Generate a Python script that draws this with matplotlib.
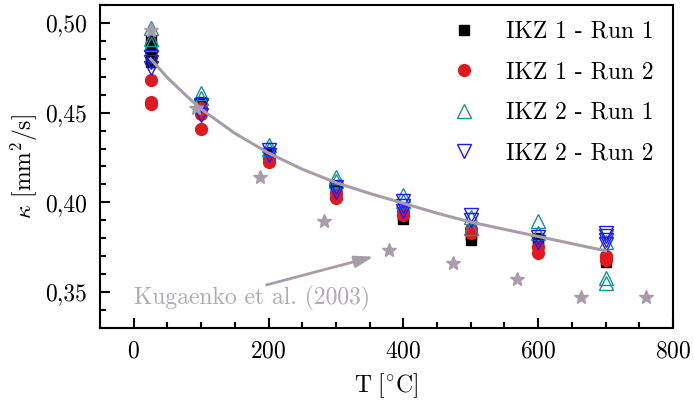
import numpy as np
import matplotlib
matplotlib.use("Agg")
import matplotlib.pyplot as plt
from matplotlib.ticker import MultipleLocator, FuncFormatter

plt.rcParams['font.family'] = 'serif'
plt.rcParams['font.serif'] = ['cmr10', 'DejaVu Serif']
plt.rcParams['mathtext.fontset'] = 'cm'
plt.rcParams['axes.formatter.use_mathtext'] = True

# -----------------------------
# DATA
# -----------------------------
ikz1_run1_T = [25, 25, 25, 25, 25, 100, 100, 200, 200, 300, 300, 400, 400, 500, 500, 600, 600, 700, 700]
ikz1_run1_k = [0.490, 0.487, 0.485, 0.482, 0.478, 0.456, 0.455, 0.428, 0.427, 0.409, 0.404,
               0.391, 0.393, 0.379, 0.382, 0.377, 0.380, 0.367, 0.369]

ikz1_run2_T = [25, 25, 25, 100, 100, 100, 200, 200, 300, 300, 400, 400, 500, 500, 600, 600, 700, 700]
ikz1_run2_k = [0.468, 0.456, 0.455, 0.4525, 0.449, 0.441, 0.4225, 0.425, 0.4025, 0.405,
               0.395, 0.393, 0.385, 0.383, 0.372, 0.375, 0.370, 0.368]

ikz2_run1_T = [25, 25, 25, 100, 100, 200, 200, 300, 300, 400, 400, 500, 500, 600, 600, 700, 700, 700]
ikz2_run1_k = [0.497, 0.491, 0.488, 0.461, 0.458, 0.432, 0.430, 0.414, 0.412, 0.404, 0.401,
               0.392, 0.386, 0.3895, 0.383, 0.378, 0.358, 0.355]

ikz2_run2_T = [25, 25, 25, 100, 100, 200, 200, 300, 300, 400, 400, 400, 500, 500, 600, 600, 700, 700, 700, 700]
ikz2_run2_k = [0.481, 0.478, 0.475, 0.454, 0.4487, 0.429, 0.4264, 0.4086, 0.406, 0.401, 0.398,
               0.395, 0.393, 0.390, 0.3807, 0.378, 0.383, 0.381, 0.379, 0.377]

# Kugaenko et al. (2003)
kug_T = [25, 92, 188, 283, 378, 473, 569, 664, 760]
kug_k = [0.496, 0.4528, 0.414, 0.3894, 0.3733, 0.366, 0.3572, 0.3472, 0.3472]

# fit curve
fit_T = [25, 50, 75, 100, 150, 200, 250, 300, 350, 400, 450, 500, 550, 600, 650, 700]
fit_k = [0.480, 0.4695, 0.4605, 0.452, 0.4385, 0.4275, 0.4185, 0.411, 0.405, 0.3995,
         0.394, 0.389, 0.385, 0.381, 0.377, 0.373]

mauve = '#a99ca9'
fs = 17

# -----------------------------
# PLOT
# -----------------------------
fig = plt.figure(figsize=(6.94, 4.03), dpi=100)
ax = fig.add_axes([100/694, 1-328/403, 573/694, 323/403])

ax.plot(ikz1_run1_T, ikz1_run1_k, 's', color='black', ms=7, ls='none', label='IKZ 1 - Run 1')
ax.plot(ikz1_run2_T, ikz1_run2_k, 'o', color='#e0191f', mec='#e0191f', ms=8.5, ls='none', label='IKZ 1 - Run 2')
ax.plot(ikz2_run1_T, ikz2_run1_k, '^', mfc='none', mec='#1f9090', mew=1.0, ms=10, ls='none', label='IKZ 2 - Run 1')
ax.plot(ikz2_run2_T, ikz2_run2_k, 'v', mfc='none', mec='#1a1aff', mew=1.0, ms=10, ls='none', label='IKZ 2 - Run 2')

ax.plot(kug_T, kug_k, '*', color=mauve, ms=10, ls='none', zorder=4)
ax.plot(fit_T, fit_k, '-', color=mauve, lw=2.2, zorder=5)

# arrow and label for the literature data
ax.annotate('', xy=(356, 0.3698), xytext=(197, 0.354),
            arrowprops=dict(arrowstyle='-|>,head_length=0.8,head_width=0.25', color=mauve, lw=2,
                            mutation_scale=14, shrinkA=0, shrinkB=0))
ax.text(176, 0.3462, 'Kugaenko et al. (2003)', color='#b3a8b3', fontsize=fs,
        ha='center', va='center')

ax.set_xlim(-50, 800)
ax.set_ylim(0.33, 0.51)
ax.xaxis.set_major_locator(MultipleLocator(200))
ax.xaxis.set_minor_locator(MultipleLocator(50))
ax.yaxis.set_major_locator(MultipleLocator(0.05))
ax.yaxis.set_minor_locator(MultipleLocator(0.01))
ax.yaxis.set_major_formatter(FuncFormatter(lambda v, p: f'{v:.2f}'.replace('.', ',')))
ax.tick_params(which='both', direction='in', top=False, right=False, labelsize=fs, width=1.5)
ax.tick_params(which='major', length=7, pad=9)
ax.tick_params(which='minor', length=4)
for s in ax.spines.values():
    s.set_linewidth(1.5)

ax.set_xlabel(r'$\mathrm{T\ [^{\circ}C]}$', fontsize=fs, labelpad=6)
ax.set_ylabel(r'$\kappa$ [mm$^2$/s]', fontsize=fs, labelpad=4)

ax.legend(loc='upper right', frameon=False, fontsize=fs, handletextpad=1.0,
          labelspacing=0.78, borderaxespad=0.4, handlelength=1.6,
          bbox_to_anchor=(1.0, 1.01))

fig.savefig('out.png', dpi=100)
